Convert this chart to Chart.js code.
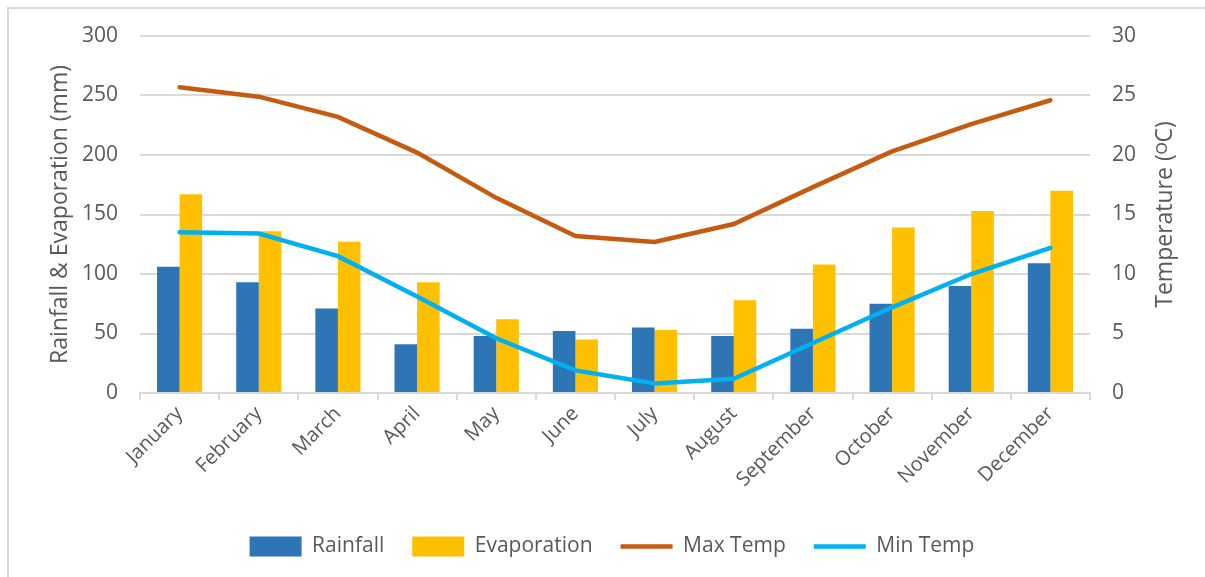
<!DOCTYPE html>
<html>
<head>
<meta charset="utf-8">
<script src="https://cdn.jsdelivr.net/npm/chart.js@4.4.1/dist/chart.umd.min.js"></script>
<style>
    html, body { margin: 0; padding: 0; background: #fff; }
    #wrap { position: relative; width: 1205px; height: 577px; }
    #frame { position: absolute; left: 7px; top: 7px; right: -5px; bottom: -5px;
             border-left: 2px solid #d9d9d9; border-top: 2px solid #d9d9d9; }
    canvas { position: absolute; left: 0; top: 0; }
</style>
</head>
<body>
<div id="wrap">
    <div id="frame"></div>
    <canvas id="chart" width="1205" height="577"></canvas>
</div>
<script>
const months = ['January', 'February', 'March', 'April', 'May', 'June', 'July',
    'August', 'September', 'October', 'November', 'December'];
const rainfall = [106, 93, 71, 41, 48, 52, 55, 48, 54, 75, 90, 109];
const evaporation = [167, 136, 127, 93, 62, 45, 53, 78, 108, 139, 153, 170];
const maxTemp = [25.7, 24.9, 23.2, 20.2, 16.4, 13.2, 12.7, 14.2, 17.3, 20.3, 22.6, 24.6];
const minTemp = [13.5, 13.4, 11.5, 8.1, 4.6, 1.9, 0.8, 1.2, 4.2, 7.2, 10.0, 12.2];

const textColor = '#595959';
const gridColor = '#d9d9d9';
const fontFamily = '"Open Sans", sans-serif';
const rightTitle = 'Temperature (ᴼC)';

const ctx = document.getElementById('chart').getContext('2d');

// right axis title, read bottom-to-top like the left one
const rightTitlePlugin = {
    id: 'rightTitle',
    afterDraw(chart) {
        const c = chart.ctx;
        const area = chart.chartArea;
        c.save();
        c.translate(1165, (area.top + area.bottom) / 2);
        c.rotate(-Math.PI / 2);
        c.fillStyle = textColor;
        c.font = '23px ' + fontFamily;
        c.textAlign = 'center';
        c.textBaseline = 'middle';
        c.fillText(rightTitle, 0, 0);
        c.restore();
    }
};

new Chart(ctx, {
    type: 'bar',
    data: {
        labels: months,
        datasets: [
            {
                label: 'Rainfall',
                data: rainfall,
                backgroundColor: '#2E75B6',
                borderWidth: 0,
                pointStyle: 'rect',
                yAxisID: 'y',
                order: 1,
                categoryPercentage: 0.57,
                barPercentage: 1.0
            },
            {
                label: 'Evaporation',
                data: evaporation,
                backgroundColor: '#FFC000',
                borderWidth: 0,
                pointStyle: 'rect',
                yAxisID: 'y',
                order: 1,
                categoryPercentage: 0.57,
                barPercentage: 1.0
            },
            {
                type: 'line',
                label: 'Max Temp',
                data: maxTemp,
                borderColor: '#C55A11',
                backgroundColor: '#C55A11',
                borderWidth: 4.5,
                borderCapStyle: 'round',
                pointRadius: 0,
                pointStyle: 'line',
                tension: 0,
                yAxisID: 'y1',
                order: 0
            },
            {
                type: 'line',
                label: 'Min Temp',
                data: minTemp,
                borderColor: '#00B0F0',
                backgroundColor: '#00B0F0',
                borderWidth: 4.5,
                borderCapStyle: 'round',
                pointRadius: 0,
                pointStyle: 'line',
                tension: 0,
                yAxisID: 'y1',
                order: 0
            }
        ]
    },
    options: {
        responsive: false,
        animation: false,
        layout: { padding: { left: 47, right: 28, top: 36, bottom: 10 } },
        plugins: {
            tooltip: { enabled: false },
            legend: {
                position: 'bottom',
                labels: {
                    usePointStyle: true,
                    pointStyleWidth: 52,
                    boxHeight: 20,
                    padding: 28,
                    color: textColor,
                    font: { family: fontFamily, size: 21 },
                    sort: (a, b) => a.datasetIndex - b.datasetIndex
                }
            }
        },
        scales: {
            x: {
                offset: true,
                grid: {
                    offset: true,
                    drawOnChartArea: false,
                    drawTicks: true,
                    tickLength: 7,
                    color: gridColor,
                    lineWidth: 2
                },
                border: { color: gridColor, width: 2 },
                ticks: {
                    color: textColor,
                    font: { family: fontFamily, size: 20 },
                    minRotation: 45,
                    maxRotation: 45,
                    padding: 2
                },
                afterFit: scale => { scale.height = 115; }
            },
            y: {
                position: 'left',
                min: 0,
                max: 300,
                ticks: {
                    stepSize: 50,
                    color: textColor,
                    font: { family: fontFamily, size: 21 },
                    padding: 22
                },
                grid: { color: gridColor, lineWidth: 2, drawTicks: false },
                border: { display: false },
                title: {
                    display: true,
                    text: 'Rainfall & Evaporation (mm)',
                    color: textColor,
                    font: { family: fontFamily, size: 23 },
                    padding: 0
                },
                afterFit: scale => { scale.width = 93; }
            },
            y1: {
                position: 'right',
                min: 0,
                max: 30,
                ticks: {
                    stepSize: 5,
                    color: textColor,
                    font: { family: fontFamily, size: 21 },
                    padding: 22
                },
                grid: { drawOnChartArea: false, drawTicks: false },
                border: { display: false },
                afterFit: scale => { scale.width = 87; }
            }
        }
    },
    plugins: [rightTitlePlugin]
});
</script>
</body>
</html>
